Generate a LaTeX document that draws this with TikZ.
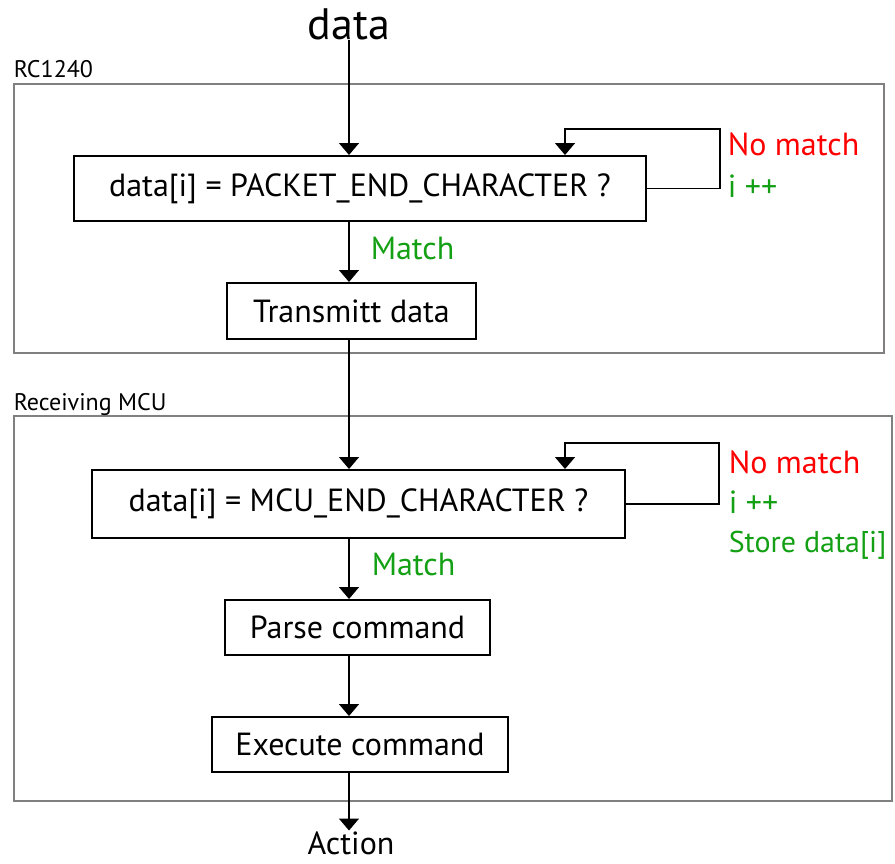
\documentclass[tikz,border=0pt]{standalone}
\usepackage{fontspec}
\setmainfont{PT Sans}
\usepackage{tikz}
\usetikzlibrary{arrows.meta}
\definecolor{matchgreen}{RGB}{20,160,20}
\definecolor{nomatchred}{RGB}{255,0,0}

\begin{document}
\begin{tikzpicture}[->,>={Triangle[width=20pt,length=12pt]},x=1pt,y=-1pt,
                    line width=1.5pt]
\tikzstyle{box}=[rectangle,draw=black,line width=2pt,inner sep=0pt]
\tikzstyle{frame}=[draw=black!50,line width=2pt]
\tikzstyle{tag}=[inner sep=0pt,anchor=base west]
\tikzset{font=\fontsize{32pt}{36pt}\selectfont}
\useasboundingbox (0,0) rectangle (895,863);

        % frames
        \draw[frame,-] (14,84) rectangle (884,353);
        \node[tag,font=\fontsize{24pt}{28pt}\selectfont]   (rc)  at (13,77)  {RC1240};
        \draw[frame,-] (14,416) rectangle (892,801);
        \node[tag,font=\fontsize{24pt}{28pt}\selectfont]   (mcu) at (13,410) {Receiving MCU};

        % in and out
        \node[inner sep=0pt,font=\fontsize{44pt}{48pt}\selectfont]  (data) at (349,24)  {data};
        \node[inner sep=0pt,anchor=base,font=\fontsize{32pt}{36pt}\selectfont] (act) at (351,854) {Action};

        % RC1240
        \node[box,minimum width=572pt,minimum height=65pt]  (q1)  at (360,188.5) {data[i] = PACKET\_END\_CHARACTER ?};
        \node[box,minimum width=249pt,minimum height=56pt]  (tx)  at (351.5,311) {Transmitt data};
        \coordinate (r1) at (720,129);
        \coordinate (l1) at (565,129);

        % Receiving MCU
        \node[box,minimum width=533pt,minimum height=68pt]  (q2)  at (358.5,504) {data[i] = MCU\_END\_CHARACTER ?};
        \node[box,minimum width=265pt,minimum height=55pt]  (pc)  at (357.5,627.5) {Parse command};
        \node[box,minimum width=296pt,minimum height=55pt]  (ex)  at (360,744.5) {Execute command};
        \coordinate (r2) at (719,443);
        \coordinate (l2) at (565,443);

        % labels
        \node[tag,text=nomatchred]  (nm1) at (727,155) {No match};
        \node[tag,text=matchgreen]  (ip1) at (727,197) {i ++};
        \node[tag,text=matchgreen]  (m1)  at (370,259) {Match};
        \node[tag,text=nomatchred]  (nm2) at (728,473) {No match};
        \node[tag,text=matchgreen]  (ip2) at (728,513) {i ++};
        \node[tag,text=matchgreen,font=\fontsize{30pt}{34pt}\selectfont]  (sd2) at (728,552) {Store data[i]};
        \node[tag,text=matchgreen]  (m2)  at (371,575) {Match};

        \path[->]
        (data.south)       edge       (data.south |- q1.north)
        (data.south |- q1.south)  edge  (data.south |- tx.north)
        (data.south |- tx.south)  edge  (data.south |- q2.north)
        (data.south |- q2.south)  edge  (data.south |- pc.north)
        (data.south |- pc.south)  edge  (data.south |- ex.north)
        (data.south |- ex.south)  edge  (data.south |- act.north)
        ; %end path

        \draw (q1.east) -| (r1) -- (l1) -- (l1 |- q1.north);
        \draw (q2.east) -| (r2) -- (l2) -- (l2 |- q2.north);

\end{tikzpicture}
\end{document}
